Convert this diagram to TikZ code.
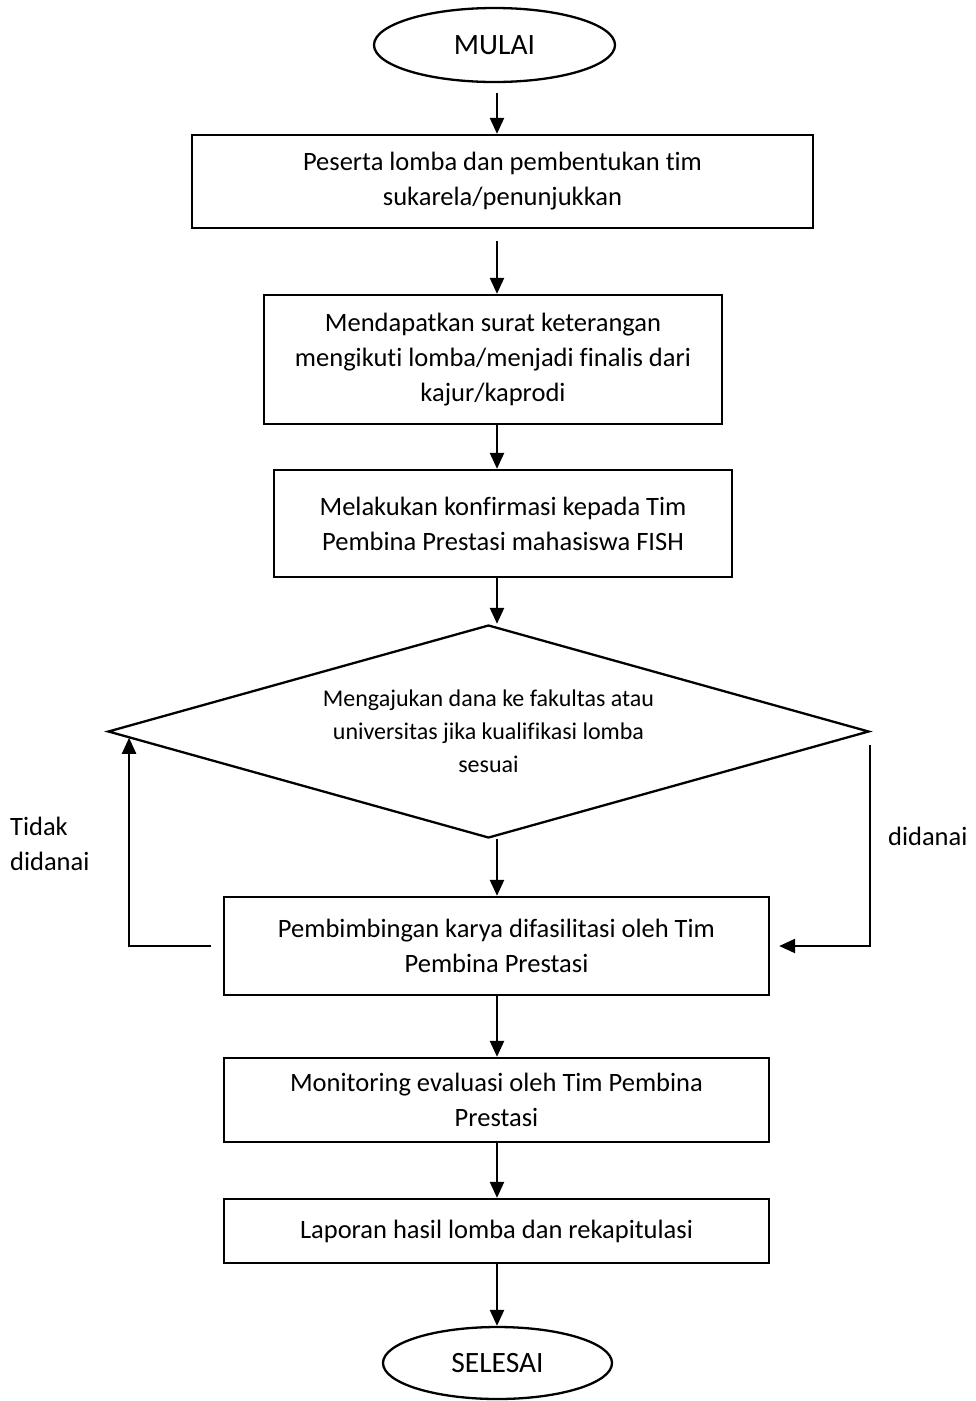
\documentclass[tikz,border=0pt]{standalone}
\usepackage{fontspec}
\setmainfont{Carlito}[Ligatures={NoCommon}]
\usetikzlibrary{shapes.geometric,arrows.meta,calc}
\begin{document}
\begin{tikzpicture}[x=1pt,y=-1pt,line width=2.3pt,
  font=\fontsize{26.5}{35}\selectfont,
  box/.style={draw,rectangle,inner sep=0pt,align=center},
  term/.style={draw,ellipse,inner sep=0pt,font=\fontsize{29.5}{35}\selectfont},
  arr/.style={-{Triangle[length=16pt,width=14pt]}},
  lbl/.style={inner sep=0pt,anchor=west,align=left}]
\useasboundingbox (0,0) rectangle (976,1401);
\coordinate (ax) at (497,0);

\node[term,minimum width=241pt,minimum height=74pt] (mulai) at (494.5,45) {MULAI};
\node[box,minimum width=621pt,minimum height=93pt] (b1) at (502.5,181.5)
  {Peserta lomba dan pembentukan tim\\sukarela/penunjukkan};
\node[box,minimum width=458pt,minimum height=129pt] (b2) at (493,359.5)
  {Mendapatkan surat keterangan\\mengikuti lomba/menjadi finalis dari\\kajur/kaprodi};
\node[box,minimum width=458pt,minimum height=107pt] (b3) at (503,523.5)
  {Melakukan konfirmasi kepada Tim\\Pembina Prestasi mahasiswa FISH};
\node[draw,diamond,shape aspect=3.57,minimum width=761pt,minimum height=213pt,
  inner sep=0pt,align=center,font=\fontsize{24}{33}\selectfont] (dec) at (488.5,731.5)
  {Mengajukan dana ke fakultas atau\\universitas jika kualifikasi lomba\\sesuai};
\node[box,minimum width=545pt,minimum height=98pt] (b4) at (496.5,946)
  {Pembimbingan karya difasilitasi oleh Tim\\Pembina Prestasi};
\node[box,minimum width=545pt,minimum height=84pt] (b5) at (496.5,1100)
  {Monitoring evaluasi oleh Tim Pembina\\Prestasi};
\node[box,minimum width=545pt,minimum height=64pt] (b6) at (496.5,1231)
  {Laporan hasil lomba dan rekapitulasi};
\node[term,minimum width=229pt,minimum height=72pt] (selesai) at (497.5,1363) {SELESAI};

\node[lbl] (tidak) at (9,844) {Tidak\\didanai};
\node[lbl] (didanai) at (887,836) {didanai};

\draw[arr] ($(mulai.south -| ax)+(0,10)$) -- (b1.north -| ax);
\draw[arr] ($(b1.south -| ax)+(0,12)$) -- (b2.north -| ax);
\draw[arr] (b2.south -| ax) -- (b3.north -| ax);
\draw[arr] (b3.south -| ax) -- (dec.north -| ax);
\draw[arr] (dec.south -| ax) -- (b4.north -| ax);
\draw[arr] (b4.south -| ax) -- (b5.north -| ax);
\draw[arr] (b5.south -| ax) -- (b6.north -| ax);
\draw[arr] (b6.south -| ax) -- (selesai.north -| ax);

\draw[arr] ($(b4.west)+(-12,0)$) -| (dec.181);
\draw[arr] ($(dec.east)+(0,13)$) |- ($(b4.east)+(9,0)$);
\end{tikzpicture}
\end{document}
